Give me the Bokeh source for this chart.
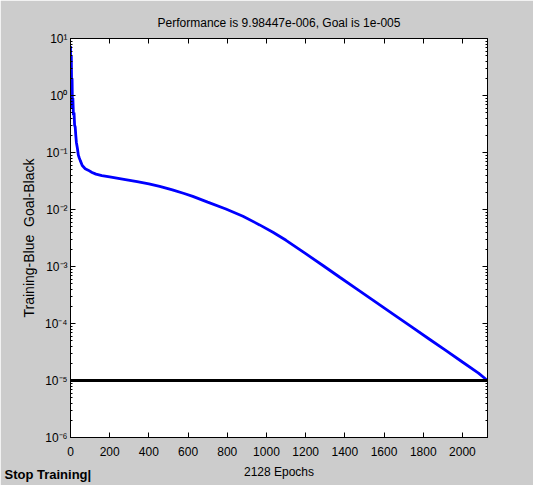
from bokeh.plotting import figure
from bokeh.models import (Range1d, FixedTicker, LinearAxis, LogAxis, Title,
                          CustomJSTickFormatter, ColumnDataSource)
from bokeh.embed import file_html
from bokeh.resources import INLINE

# ---- data ----
epochs = [0, 2, 4, 6, 8, 10, 12, 15, 18, 21, 24, 27, 30, 35, 40, 45, 50, 60, 75, 90,
          110, 130, 160, 200, 280, 340, 400, 455, 520, 580, 624, 700, 793, 880, 965,
          1033, 1100, 1202, 1290, 1376, 1460, 1545, 1650, 1739, 1830, 1913, 2000,
          2082, 2128]
performance = [7.4, 3.0, 5.0, 1.2, 2.0, 0.6, 0.9, 0.45, 0.5, 0.3, 0.28, 0.2, 0.15, 0.12,
               0.09, 0.08, 0.072, 0.059, 0.052, 0.049, 0.0447, 0.0417, 0.0392, 0.0372,
               0.0335, 0.0309, 0.0282, 0.0254, 0.0221, 0.0191, 0.0170, 0.0135, 0.0102,
               0.00759, 0.00537, 0.00398, 0.00288, 0.00166, 0.00103, 0.000641,
               0.000405, 0.000254, 0.000143, 0.0000879, 0.0000535, 0.0000340,
               0.0000211, 0.0000135, 9.98447e-6]
goal_epochs = [0, 2128]
goal = [1e-5, 1e-5]
x_ticks = [0, 200, 400, 600, 800, 1000, 1200, 1400, 1600, 1800, 2000]
y_ticks = [1e-6, 1e-5, 1e-4, 1e-3, 1e-2, 1e-1, 1e0, 1e1]
title_text = "Performance is 9.98447e-006, Goal is 1e-005"
x_label = "2128 Epochs"
y_label = "Training-Blue  Goal-Black"
button_text = "Stop Training"

y_minor = [m * d for d in y_ticks[:-1] for m in range(2, 10)]

BG = "#CCCCCC"
FONT = "Liberation Sans"

p = figure(width=533, height=485, y_axis_type="log",
           x_range=Range1d(0, 2128), y_range=Range1d(1e-6, 1e1),
           output_backend="svg", toolbar_location=None,
           min_border_left=70, min_border_right=46, min_border_top=38,
           min_border_bottom=48)
p.background_fill_color = "white"
p.border_fill_color = BG
p.outline_line_color = "black"
p.outline_line_width = 1
p.grid.visible = False

p.title.text = title_text
p.title.align = "center"
p.title.text_font = FONT
p.title.text_font_size = "12px"
p.title.text_font_style = "normal"
p.title.text_color = "black"
p.title.standoff = 17

src = ColumnDataSource(dict(x=epochs, y=performance))
p.line("x", "y", source=src, line_color="#0000FF", line_width=2.8)
p.line(goal_epochs, goal, line_color="black", line_width=3)

sup_js = """
const sup = {'0':'\u2070','1':'\u00b9','2':'\u00b2','3':'\u00b3','4':'\u2074','5':'\u2075',
             '6':'\u2076','7':'\u2077','8':'\u2078','9':'\u2079','-':'\u207b'};
const e = Math.round(Math.log10(tick));
return '10' + String(e).split('').map(c => sup[c]).join('');
"""
blank = CustomJSTickFormatter(code="return '';")


def style(ax, labels=True):
    ax.axis_line_color = "black"
    ax.major_tick_line_color = "black"
    ax.minor_tick_line_color = "black"
    ax.major_tick_in = 5
    ax.major_tick_out = 0
    ax.minor_tick_in = 2
    ax.minor_tick_out = 0
    ax.major_label_text_font = FONT
    ax.major_label_text_font_size = "12px"
    ax.major_label_text_color = "black"
    ax.axis_label_text_font = FONT
    ax.axis_label_text_font_size = "12px"
    ax.axis_label_text_font_style = "normal"
    ax.axis_label_text_color = "black"
    if not labels:
        ax.formatter = blank
        ax.major_label_standoff = 0


xa = p.xaxis[0]
xa.ticker = FixedTicker(ticks=x_ticks)
style(xa)
xa.major_label_standoff = 9
xa.axis_label = x_label
xa.axis_label_standoff = 6

ya = p.yaxis[0]
ya.ticker = FixedTicker(ticks=y_ticks, minor_ticks=y_minor)
ya.formatter = CustomJSTickFormatter(code=sup_js)
style(ya)
ya.major_label_standoff = 3
ya.axis_label = y_label.replace(" ", "\u00a0")
ya.axis_label_text_font_size = "14px"
ya.axis_label_standoff = 5

top = LinearAxis(ticker=FixedTicker(ticks=x_ticks))
style(top, labels=False)
p.add_layout(top, "above")

right = LogAxis(ticker=FixedTicker(ticks=y_ticks, minor_ticks=y_minor))
style(right, labels=False)
p.add_layout(right, "right")

btn = Title(text=button_text + "|", align="left", offset=-66, standoff=-30,
            text_font=FONT, text_font_size="13px", text_font_style="bold",
            text_color="black", vertical_align="top")
p.add_layout(btn, "below")

open("out.html", "w").write(file_html(p, INLINE))
